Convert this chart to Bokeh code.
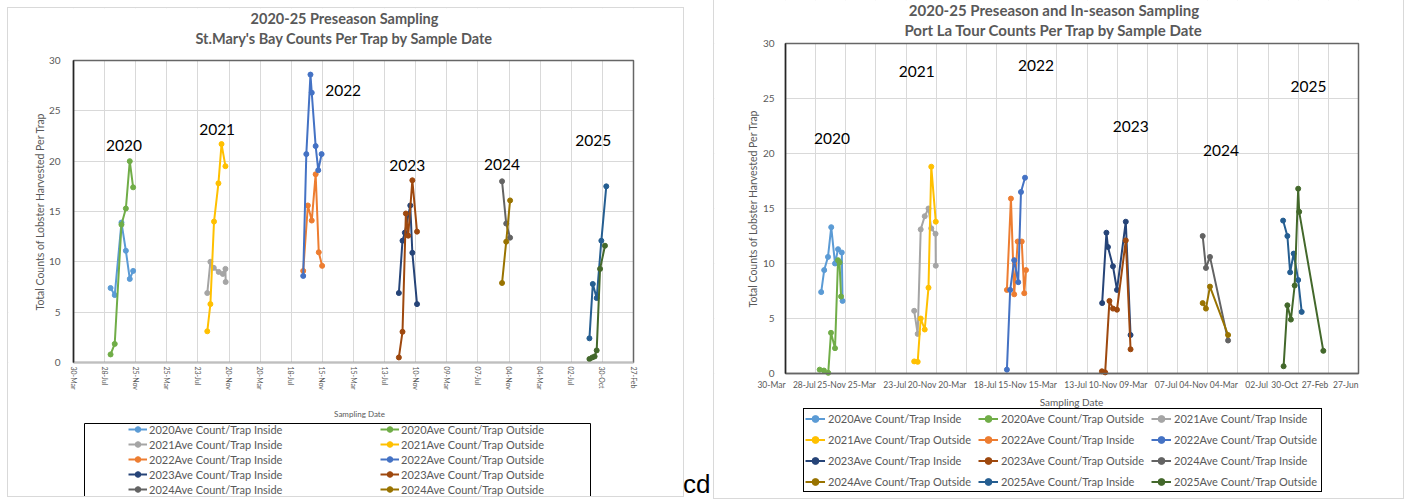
import math
import pandas as pd
from bokeh.plotting import figure
from bokeh.models import (Range1d, FixedTicker, DatetimeTickFormatter, Legend, LegendItem,
                          Div, BoxAnnotation, Label)
from bokeh.layouts import row
from bokeh.embed import file_html
from bokeh.resources import INLINE
from bokeh.core.properties import value

FONT = "Lato"
GRAY = "#595959"

# ---------------- St. Mary's Bay (left chart) ----------------
smb_2020_dates = ["2020-08-20", "2020-09-05", "2020-10-01", "2020-10-18", "2020-11-02", "2020-11-15"]
smb_2020_in = [7.4, 6.7, 13.9, 11.1, 8.3, 9.1]
smb_2020_out = [0.8, 1.85, 13.7, 15.3, 20.0, 17.4]

smb_2021_in_dates = ["2021-08-28", "2021-09-09", "2021-09-22", "2021-10-11", "2021-10-27", "2021-11-06", "2021-11-07"]
smb_2021_in = [6.9, 10.0, 9.4, 9.0, 8.8, 9.3, 8.0]
smb_2021_out_dates = ["2021-08-28", "2021-09-09", "2021-09-23", "2021-10-10", "2021-10-22", "2021-11-06"]
smb_2021_out = [3.1, 5.8, 14.0, 17.8, 21.7, 19.5]

smb_2022_in_dates = ["2022-09-02", "2022-09-20", "2022-10-05", "2022-10-20", "2022-11-01", "2022-11-14"]
smb_2022_in = [9.1, 15.6, 14.1, 18.7, 10.95, 9.6]
smb_2022_out_dates = ["2022-09-02", "2022-09-14", "2022-09-30", "2022-10-05", "2022-10-20", "2022-10-30", "2022-11-12"]
smb_2022_out = [8.6, 20.7, 28.6, 26.8, 21.5, 19.1, 20.7]

smb_2023_in_dates = ["2023-09-06", "2023-09-20", "2023-09-29", "2023-10-20", "2023-10-28", "2023-11-15"]
smb_2023_in = [6.9, 12.1, 12.9, 15.6, 10.9, 5.8]
smb_2023_out_dates = ["2023-09-06", "2023-09-20", "2023-10-03", "2023-10-12", "2023-10-28", "2023-11-15"]
smb_2023_out = [0.5, 3.05, 14.8, 12.6, 18.1, 13.0]

smb_2024_dates = ["2024-10-08", "2024-10-24", "2024-11-08"]
smb_2024_in = [18.0, 13.8, 12.4]
smb_2024_out = [7.9, 12.0, 16.1]

smb_2025_in_dates = ["2025-09-10", "2025-09-23", "2025-10-08", "2025-10-26", "2025-11-14"]
smb_2025_in = [2.4, 7.8, 6.4, 12.1, 17.5]
smb_2025_out_dates = ["2025-09-10", "2025-09-21", "2025-09-30", "2025-10-08", "2025-10-21", "2025-11-09"]
smb_2025_out = [0.35, 0.5, 0.6, 1.2, 9.3, 11.6]

smb_year_labels = ["2020", "2021", "2022", "2023", "2024", "2025"]
smb_year_label_dates = ["2020-10-11", "2021-10-05", "2023-02-03", "2023-10-08", "2024-10-08", "2025-09-25"]
smb_year_label_values = [21.55, 23.1, 27.0, 19.6, 19.7, 22.05]

# ---------------- Port La Tour (right chart) ----------------
plt_2020_in_dates = ["2020-08-19", "2020-08-31", "2020-09-15", "2020-09-28", "2020-10-13", "2020-10-25", "2020-11-09", "2020-11-12"]
plt_2020_in = [7.4, 9.4, 10.6, 13.3, 10.0, 11.3, 11.0, 6.6]
plt_2020_out_dates = ["2020-08-13", "2020-08-30", "2020-09-16", "2020-09-27", "2020-10-13", "2020-10-25", "2020-10-31", "2020-11-06"]
plt_2020_out = [0.35, 0.27, 0.06, 3.7, 2.3, 10.3, 10.1, 7.0]

plt_2021_in_dates = ["2021-08-24", "2021-09-07", "2021-09-19", "2021-10-05", "2021-10-20", "2021-10-31", "2021-11-17", "2021-11-18"]
plt_2021_in = [5.7, 3.6, 13.1, 14.3, 15.0, 13.2, 12.7, 9.8]
plt_2021_out_dates = ["2021-08-24", "2021-09-07", "2021-09-19", "2021-10-05", "2021-10-20", "2021-10-31", "2021-11-18"]
plt_2021_out = [1.1, 1.06, 5.0, 4.0, 7.8, 18.8, 13.8]

plt_2022_in_dates = ["2022-08-28", "2022-09-13", "2022-09-26", "2022-10-10", "2022-10-26", "2022-11-05", "2022-11-12"]
plt_2022_in = [7.6, 15.9, 7.2, 12.0, 12.0, 7.3, 9.4]
plt_2022_out_dates = ["2022-08-28", "2022-09-10", "2022-09-26", "2022-10-12", "2022-10-23", "2022-11-08"]
plt_2022_out = [0.35, 7.6, 10.3, 8.3, 16.5, 17.8]

plt_2023_in_dates = ["2023-09-11", "2023-09-28", "2023-10-04", "2023-10-24", "2023-11-09", "2023-12-14", "2024-01-02"]
plt_2023_in = [6.4, 12.8, 11.5, 9.75, 7.6, 13.8, 3.5]
plt_2023_out_dates = ["2023-09-10", "2023-09-23", "2023-10-10", "2023-10-24", "2023-11-09", "2023-12-14", "2024-01-02"]
plt_2023_out = [0.2, 0.1, 6.6, 5.9, 5.8, 12.1, 2.2]

plt_2024_dates = ["2024-10-15", "2024-10-28", "2024-11-13", "2025-01-24"]
plt_2024_in = [12.5, 9.6, 10.6, 3.0]
plt_2024_out = [6.4, 5.9, 7.9, 3.5]

plt_2025_in_dates = ["2025-08-31", "2025-09-17", "2025-09-28", "2025-10-12", "2025-10-30", "2025-11-13"]
plt_2025_in = [13.9, 12.5, 9.2, 10.9, 8.5, 5.6]
plt_2025_out_dates = ["2025-09-02", "2025-09-17", "2025-10-01", "2025-10-16", "2025-10-30", "2025-11-03", "2026-02-07"]
plt_2025_out = [0.66, 6.2, 4.9, 8.0, 16.8, 14.7, 2.06]

plt_year_labels = ["2020", "2021", "2022", "2023", "2024", "2025"]
plt_year_label_dates = ["2020-10-01", "2021-09-03", "2022-12-22", "2024-01-03", "2024-12-27", "2025-12-10"]
plt_year_label_values = [21.4, 27.5, 28.0, 22.5, 20.3, 26.1]

series_labels = [
    "2020Ave Count/Trap Inside", "2020Ave Count/Trap Outside",
    "2021Ave Count/Trap Inside", "2021Ave Count/Trap Outside",
    "2022Ave Count/Trap Inside", "2022Ave Count/Trap Outside",
    "2023Ave Count/Trap Inside", "2023Ave Count/Trap Outside",
    "2024Ave Count/Trap Inside", "2024Ave Count/Trap Outside",
    "2025Ave Count/Trap Inside", "2025Ave Count/Trap Outside",
]
series_colors = ["#5B9BD5", "#70AD47", "#A5A5A5", "#FFC000", "#ED7D31", "#4472C4",
                 "#264478", "#9E480E", "#636363", "#997300", "#255E91", "#43682B"]

smb_series = [
    (smb_2020_dates, smb_2020_in), (smb_2020_dates, smb_2020_out),
    (smb_2021_in_dates, smb_2021_in), (smb_2021_out_dates, smb_2021_out),
    (smb_2022_in_dates, smb_2022_in), (smb_2022_out_dates, smb_2022_out),
    (smb_2023_in_dates, smb_2023_in), (smb_2023_out_dates, smb_2023_out),
    (smb_2024_dates, smb_2024_in), (smb_2024_dates, smb_2024_out),
    (smb_2025_in_dates, smb_2025_in), (smb_2025_out_dates, smb_2025_out),
]
plt_series = [
    (plt_2020_in_dates, plt_2020_in), (plt_2020_out_dates, plt_2020_out),
    (plt_2021_in_dates, plt_2021_in), (plt_2021_out_dates, plt_2021_out),
    (plt_2022_in_dates, plt_2022_in), (plt_2022_out_dates, plt_2022_out),
    (plt_2023_in_dates, plt_2023_in), (plt_2023_out_dates, plt_2023_out),
    (plt_2024_dates, plt_2024_in), (plt_2024_dates, plt_2024_out),
    (plt_2025_in_dates, plt_2025_in), (plt_2025_out_dates, plt_2025_out),
]

X_START = "2020-03-30"
Y_TICKS = [0, 5, 10, 15, 20, 25, 30]
Y_MAX = 30


def make_chart(geo, x_end, n_ticks, titles, title_size, series, yl, yl_dates, yl_vals,
               tick_orient, tick_size, tick_standoff, xlabel_size, ytick_standoff, margin,
               bottom_axis_color):
    # geo: canvas width/height and the plot-area box (left, right, top, bottom) in canvas px
    W, H, pl, pr, pt, pb = geo["W"], geo["H"], geo["pl"], geo["pr"], geo["pt"], geo["pb"]
    start = pd.Timestamp(X_START)
    end = pd.Timestamp(x_end)
    span_days = (end - start).days
    px_day = (pr - pl) / span_days
    px_unit = (pb - pt) / Y_MAX
    x_lo = start - pd.Timedelta(days=pl / px_day)
    x_hi = end + pd.Timedelta(days=(W - pr) / px_day)
    y_lo = -(H - pb) / px_unit
    y_hi = Y_MAX + pt / px_unit
    start_ms = start.value // 10**6
    end_ms = end.value // 10**6

    p = figure(width=W, height=H, x_axis_type="datetime",
               x_range=Range1d(x_lo, x_hi), y_range=Range1d(y_lo, y_hi),
               toolbar_location=None, output_backend="svg",
               min_border=0, min_border_left=0, min_border_right=0,
               min_border_top=0, min_border_bottom=0,
               background_fill_color="white", border_fill_color="white",
               outline_line_color=None,
               styles={"outline": "1px solid #D9D9D9"})
    p.margin = margin

    def sy(py):  # canvas y (from top) -> frame screen units (from bottom)
        return H - py

    ticks = [(start + pd.Timedelta(days=120 * i)).value // 10**6 for i in range(n_ticks)]
    p.xaxis.ticker = FixedTicker(ticks=ticks)
    p.xaxis.formatter = DatetimeTickFormatter(days="%d-%b", months="%d-%b", years="%d-%b")
    p.xaxis.major_label_orientation = tick_orient
    p.xaxis.fixed_location = 0
    p.xaxis.bounds = (start_ms, end_ms)
    p.yaxis.ticker = FixedTicker(ticks=Y_TICKS)
    p.yaxis.fixed_location = start_ms
    p.yaxis.bounds = (0, Y_MAX)
    for ax in (p.xaxis[0], p.yaxis[0]):
        ax.major_tick_line_color = None
        ax.minor_tick_line_color = None
        ax.major_tick_out = 0
        ax.major_tick_in = 0
        ax.minor_tick_out = 0
        ax.minor_tick_in = 0
        ax.major_label_text_font = FONT
        ax.major_label_text_color = GRAY
    p.xaxis.major_label_text_font_size = tick_size
    p.xaxis.major_label_standoff = tick_standoff
    p.xaxis.axis_line_color = bottom_axis_color
    p.xaxis.axis_line_width = 1.5
    p.yaxis.major_label_text_font_size = "10px"
    p.yaxis.major_label_standoff = ytick_standoff
    p.yaxis.axis_line_color = "#262626"
    p.yaxis.axis_line_width = 1.5
    p.xgrid.grid_line_color = "#D9D9D9"
    p.ygrid.grid_line_color = "#D9D9D9"
    p.xgrid.ticker = p.xaxis.ticker
    p.ygrid.ticker = p.yaxis.ticker

    # mask grid lines outside the plot area, then draw the plot-area border (top/right)
    for kw in ({"top": 0}, {"bottom": Y_MAX}, {"right": start_ms}, {"left": end_ms}):
        p.add_layout(BoxAnnotation(fill_color="white", fill_alpha=1, line_alpha=0,
                                   level="underlay", **kw))
    p.add_layout(BoxAnnotation(left=start_ms, right=end_ms, bottom=0, top=Y_MAX,
                               fill_alpha=0, line_color="#666666", line_width=1.5,
                               line_alpha=1, level="underlay"))

    # chart titles
    for txt, cy in zip(titles, geo["title_y"]):
        p.add_layout(Label(x=geo["title_x"], y=sy(cy), x_units="screen", y_units="screen",
                           text=txt, text_font=FONT, text_font_size=title_size,
                           text_font_style="bold", text_color=GRAY, text_align="center",
                           text_baseline="middle"))
    # axis titles
    p.add_layout(Label(x=geo["ytitle_x"], y=sy((pt + pb) / 2), x_units="screen",
                       y_units="screen", angle=math.pi / 2,
                       text="Total Counts of Lobster Harvested Per Trap", text_font=FONT,
                       text_font_size="10.5px", text_color=GRAY, text_align="center",
                       text_baseline="middle"))
    p.add_layout(Label(x=geo["xtitle_x"], y=sy(geo["xtitle_y"]), x_units="screen",
                       y_units="screen", text="Sampling Date", text_font=FONT,
                       text_font_size=xlabel_size, text_color=GRAY, text_align="center",
                       text_baseline="middle"))

    items = []
    for (d, v), lab, col in zip(series, series_labels, series_colors):
        x = pd.to_datetime(d)
        rl = p.line(x, v, line_color=col, line_width=2)
        rs = p.scatter(x, v, marker="circle", size=5, fill_color=col, line_color=col)
        items.append(LegendItem(label=lab, renderers=[rl, rs]))

    p.text(x=pd.to_datetime(yl_dates), y=yl_vals, text=yl, text_font=value(FONT),
           text_font_size="15.5px", text_align="center", text_baseline="middle",
           text_color="black")
    return p, items, sy


# left chart: canvas at page (8, 8), 675 x 488; plot area page x 73..633, y 60..362
left_geo = dict(W=675, H=488, pl=65, pr=625, pt=52, pb=354,
                title_x=336, title_y=(10, 30), ytitle_x=31, xtitle_x=351, xtitle_y=405)
left, left_items, left_sy = make_chart(
    left_geo, "2026-02-27", 19,
    ("2020-25 Preseason Sampling", "St.Mary's Bay Counts Per Trap by Sample Date"),
    "14.5px", smb_series, smb_year_labels, smb_year_label_dates, smb_year_label_values,
    -math.pi / 2, "7px", 4, "8px", 13, (8, 0, 0, 8), "#BFBFBF")

# only the first five legend rows fit inside the visible chart area
left_shown = left_items[:10]
LEFT_LEG_H = 5 * 14 + 4 * 1
left_legend = Legend(items=left_shown, orientation="horizontal", ncols=2,
                     location=(120, left_sy(414) - LEFT_LEG_H), padding=0, margin=0, spacing=1,
                     glyph_width=19, glyph_height=14, label_height=14, label_width=230,
                     label_standoff=2, label_text_font=FONT, label_text_font_size="11px",
                     label_text_color=GRAY, border_line_alpha=0, background_fill_alpha=0)
left.add_layout(left_legend, "center")
left.add_layout(BoxAnnotation(left=76, right=582, top=left_sy(415), bottom=-30,
                              left_units="screen", right_units="screen",
                              top_units="screen", bottom_units="screen",
                              fill_alpha=0, line_color="black", line_width=1, line_alpha=1))

# right chart: canvas at page (714, 0), 689 x 498; plot area page x 785..1358, y 43..373
right_geo = dict(W=689, H=498, pl=71, pr=644, pt=43, pb=373,
                 title_x=339.5, title_y=(9, 29), ytitle_x=38, xtitle_x=357, xtitle_y=401)
right, right_items, right_sy = make_chart(
    right_geo, "2026-06-27", 20,
    ("2020-25 Preseason and In-season Sampling", "Port La Tour Counts Per Trap by Sample Date"),
    "15px", plt_series, plt_year_labels, plt_year_label_dates, plt_year_label_values,
    0, "8.5px", 11, "10px", 11, (0, 0, 0, 0), "#666666")

RIGHT_LEG_H = 2 * 1 + 4 * 17 + 3 * 4
right_legend = Legend(items=right_items, orientation="horizontal", ncols=3,
                      location=(89, right_sy(410) - RIGHT_LEG_H), padding=1, margin=0, spacing=4,
                      glyph_width=20, glyph_height=17, label_height=17, label_width=146,
                      label_standoff=3, label_text_font=FONT, label_text_font_size="11px",
                      label_text_color=GRAY, border_line_color="black", border_line_width=1,
                      border_line_alpha=1, background_fill_alpha=0)
right.add_layout(right_legend, "center")

cd = Div(text="cd", width=31, height=29, margin=(470, 0, 0, 0),
         styles={"font-size": "26px", "font-family": "Liberation Sans, Arial, sans-serif",
                 "color": "#000000", "line-height": "29px"})

layout = row(left, cd, right)
open("out.html", "w").write(file_html(layout, INLINE))
